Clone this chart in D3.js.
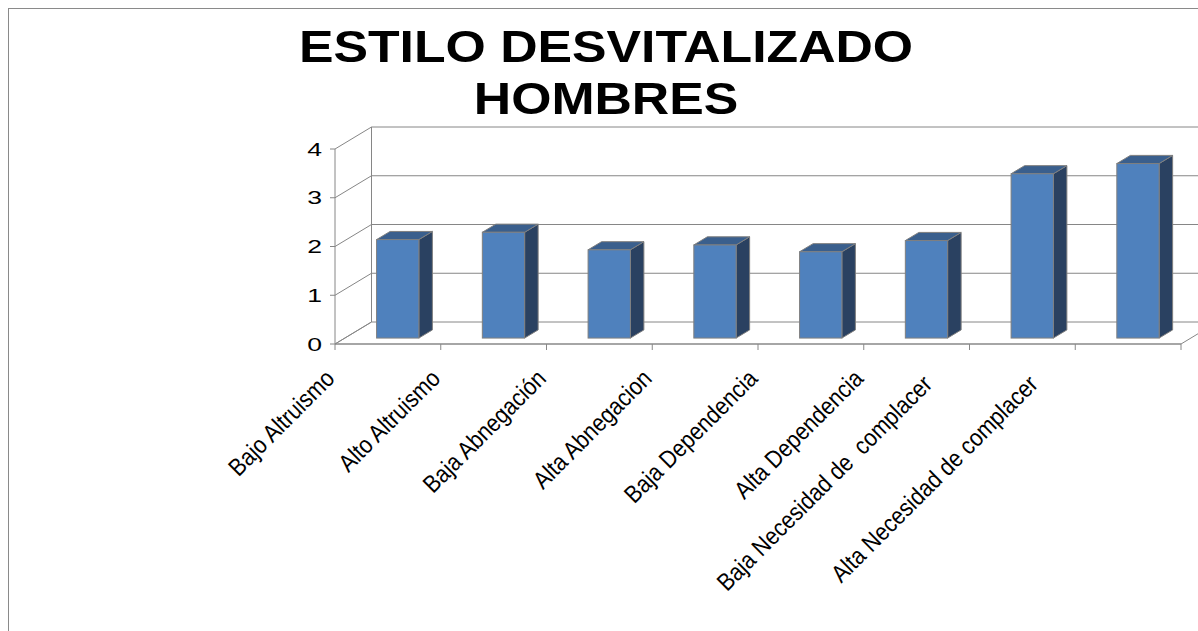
<!DOCTYPE html>
<html>
<head>
<meta charset="utf-8">
<script src="https://cdn.jsdelivr.net/npm/d3@7/dist/d3.min.js"></script>
<style>
  html, body { margin: 0; padding: 0; background: #fff; }
  svg { display: block; }
</style>
</head>
<body>
<script>
// Chart data
const categories = [
  "Bajo Altruismo",
  "Alto Altruismo",
  "Baja Abnegación",
  "Alta Abnegacion",
  "Baja Dependencia",
  "Alta Dependencia",
  "Baja Necesidad de  complacer",
  "Alta Necesidad de complacer"
];
const values = [2.02, 2.17, 1.81, 1.91, 1.77, 2.0, 3.37, 3.58];
const yTicks = [0, 1, 2, 3, 4];
const titleLines = ["ESTILO DESVITALIZADO", "HOMBRES"];

const W = 1198, H = 631;
const gridColor = "#868686";
const font = "'Liberation Sans', Arial, sans-serif";

// Oblique 3D frame: front floor edge plus a depth vector toward the back wall
const depth = { dx: 36.5, dy: -22 };
const barFront = 0.27;    // depth fraction of the bar's front face
const barDepth = 0.37;    // depth fraction the bar occupies
const barWidth = 0.40;    // share of the category slot

const svg = d3.select("body").append("svg")
  .attr("width", W).attr("height", H);

svg.append("rect").attr("width", W).attr("height", H).attr("fill", "#fff");

// chart area border
svg.append("rect")
  .attr("x", 8.5).attr("y", 8.5)
  .attr("width", 1400).attr("height", 800)
  .attr("fill", "none").attr("stroke", "#8a8a8a").attr("stroke-width", 1);

const x = d3.scaleBand().domain(categories).range([335, 1181]).padding(0);
const y = d3.scaleLinear().domain([0, 4]).range([344, 149]);
const bw = x.bandwidth();
const xL = x.range()[0], xR = x.range()[1];

// Title (wide bold lettering)
svg.append("g").selectAll("text").data(titleLines).join("text")
  .attr("transform", (d, i) => `translate(606,${62 + i * 52}) scale(1.15,1)`)
  .attr("text-anchor", "middle")
  .style("font-family", font)
  .style("font-weight", "bold")
  .style("font-size", "45px")
  .attr("fill", "#000")
  .text(d => d);

const walls = svg.append("g")
  .attr("fill", "none").attr("stroke", gridColor).attr("stroke-width", 1);

// back wall gridlines
walls.selectAll("line.grid").data(yTicks).join("line")
  .attr("class", "grid")
  .attr("x1", xL + depth.dx).attr("x2", xR + depth.dx)
  .attr("y1", d => y(d) + depth.dy).attr("y2", d => y(d) + depth.dy);

// side wall diagonals at each tick
walls.selectAll("line.side").data(yTicks).join("line")
  .attr("class", "side")
  .attr("x1", xL).attr("x2", xL + depth.dx)
  .attr("y1", d => y(d)).attr("y2", d => y(d) + depth.dy);

// back wall left edge
walls.append("line")
  .attr("x1", xL + depth.dx).attr("x2", xL + depth.dx)
  .attr("y1", y(0) + depth.dy).attr("y2", y(4) + depth.dy);

// front vertical axis
walls.append("line")
  .attr("x1", xL).attr("x2", xL)
  .attr("y1", y(0)).attr("y2", y(4));

// floor right diagonal
walls.append("line")
  .attr("x1", xR).attr("x2", xR + depth.dx)
  .attr("y1", y(0)).attr("y2", y(0) + depth.dy);

// value axis ticks
walls.selectAll("line.ytick").data(yTicks).join("line")
  .attr("class", "ytick")
  .attr("x1", xL - 5).attr("x2", xL)
  .attr("y1", d => y(d)).attr("y2", d => y(d));

// Bars
const fdx = barFront * depth.dx, fdy = barFront * depth.dy;
const ddx = barDepth * depth.dx, ddy = barDepth * depth.dy;
const bars = svg.append("g").selectAll("g").data(categories).join("g");

bars.each(function (c, i) {
  const g = d3.select(this);
  const w = bw * barWidth;
  const L = x(c) + (bw - w) / 2 + fdx;
  const R = L + w;
  const T = y(values[i]) + fdy;
  const B = y(0) + fdy;
  const stroke = "#7f7f7f";
  // right side face
  g.append("polygon")
    .attr("points", [[R, T], [R + ddx, T + ddy], [R + ddx, B + ddy], [R, B]].join(" "))
    .attr("fill", "#2a4161").attr("stroke", stroke).attr("stroke-width", 1);
  // top face
  g.append("polygon")
    .attr("points", [[L, T], [R, T], [R + ddx, T + ddy], [L + ddx, T + ddy]].join(" "))
    .attr("fill", "#3a5f8d").attr("stroke", stroke).attr("stroke-width", 1);
  // front face
  g.append("rect")
    .attr("x", L).attr("y", T).attr("width", w).attr("height", B - T)
    .attr("fill", "#4f81bd").attr("stroke", stroke).attr("stroke-width", 1);
});

// Front floor edge and category ticks
const axis = svg.append("g").attr("stroke", "#888").attr("fill", "none");
axis.append("line")
  .attr("x1", xL).attr("x2", xR)
  .attr("y1", y(0)).attr("y2", y(0))
  .attr("stroke-width", 1.5);
axis.append("line")
  .attr("x1", xL).attr("x2", xL + depth.dx)
  .attr("y1", y(0)).attr("y2", y(0) + depth.dy);
const tickXs = categories.map(c => x(c)).concat([xR]);
axis.selectAll("line.xtick").data(tickXs).join("line")
  .attr("class", "xtick")
  .attr("x1", d => d).attr("x2", d => d)
  .attr("y1", y(0)).attr("y2", y(0) + 6);

// Value axis labels
svg.append("g").selectAll("text").data(yTicks).join("text")
  .attr("transform", d => `translate(322,${y(d)}) scale(1.4,1)`)
  .attr("text-anchor", "end")
  .attr("dominant-baseline", "central")
  .style("font-family", font)
  .style("font-size", "19px")
  .attr("fill", "#000")
  .text(d => d);

// Category labels, rotated and condensed; long labels sit like a wrapped two-line label
svg.append("g").selectAll("text").data(categories).join("text")
  .attr("transform", d => {
    const cx = x(d) + bw / 2 - 52;
    const long = d.length > 20;
    return `translate(${cx},380) rotate(-45)` + (long ? " translate(-30,-22)" : "") + " scale(0.88,1)";
  })
  .attr("text-anchor", "end")
  .attr("xml:space", "preserve")
  .style("white-space", "pre")
  .style("font-family", font)
  .style("font-size", "24.5px")
  .attr("fill", "#000")
  .text(d => d);
</script>
</body>
</html>
